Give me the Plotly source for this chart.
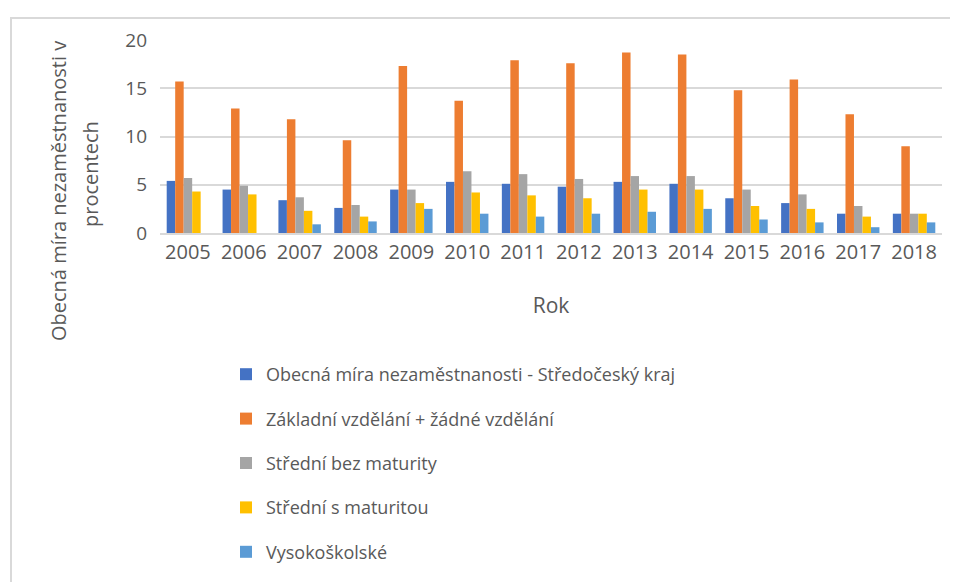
import plotly.graph_objects as go

# Roky a hodnoty (v procentech)
years = ['2005', '2006', '2007', '2008', '2009', '2010', '2011',
         '2012', '2013', '2014', '2015', '2016', '2017', '2018']

obecna = [5.4, 4.5, 3.4, 2.6, 4.5, 5.3, 5.1, 4.8, 5.3, 5.1, 3.6, 3.1, 2.0, 2.0]
zakladni = [15.7, 12.9, 11.8, 9.6, 17.3, 13.7, 17.9, 17.6, 18.7, 18.5, 14.8, 15.9, 12.3, 9.0]
bez_maturity = [5.7, 4.9, 3.7, 2.9, 4.5, 6.4, 6.1, 5.6, 5.9, 5.9, 4.5, 4.0, 2.8, 2.0]
s_maturitou = [4.3, 4.0, 2.3, 1.7, 3.1, 4.2, 3.9, 3.6, 4.5, 4.5, 2.8, 2.5, 1.7, 2.0]
vysokoskolske = [None, None, 0.9, 1.2, 2.5, 2.0, 1.7, 2.0, 2.2, 2.5, 1.4, 1.1, 0.6, 1.1]

series = [
    ('Obecná míra nezaměstnanosti - Středočeský kraj', obecna, '#4472C4'),
    ('Základní vzdělání + žádné vzdělání', zakladni, '#ED7D31'),
    ('Střední bez maturity', bez_maturity, '#A5A5A5'),
    ('Střední s maturitou', s_maturitou, '#FFC000'),
    ('Vysokoškolské', vysokoskolske, '#5B9BD5'),
]

W, H = 958, 582
# okraj stránky (body margin) posouvá graf
OX, OY = 8, 9
L, T = 160 - OX, 41 - OY
R = W - (942 - OX)
B = H - (234 - OY)
pw, ph = W - L - R, H - T - B


def px(x):
    return (x - OX - L) / pw


def py(y):
    return 1 - (y - OY - T) / ph


fig = go.Figure()
for i, (name, vals, color) in enumerate(series):
    fig.add_trace(go.Bar(
        x=years, y=vals, name=name,
        marker=dict(color=color, line=dict(width=0)),
        legendgroup=f'g{i}'
    ))

text_color = '#595959'
font_family = 'Open Sans, DejaVu Sans, sans-serif'

fig.update_layout(
    width=W, height=H,
    margin=dict(l=L, r=R, t=T, b=B, autoexpand=False),
    paper_bgcolor='white', plot_bgcolor='white',
    barmode='group', bargap=0.24, bargroupgap=0,
    font=dict(family=font_family, color=text_color),
    legend=dict(
        x=px(226), xanchor='left',
        y=py(357), yanchor='top',
        font=dict(size=18, color=text_color),
        tracegroupgap=18,
        itemwidth=30,
        bgcolor='rgba(0,0,0,0)'
    ),
    showlegend=True,
)

fig.update_xaxes(
    type='category', automargin=False,
    showgrid=False, showline=True, linecolor='#d9d9d9', linewidth=2,
    ticks='', tickfont=dict(size=20, color=text_color),
    title=dict(text='Rok', font=dict(size=21, color=text_color), standoff=34),
)
fig.update_yaxes(
    range=[0, 20], tickvals=[0, 5, 10, 15, 20], automargin=False,
    showgrid=True, gridcolor='#d9d9d9', gridwidth=2,
    zeroline=False, showline=False, ticks='',
    tickfont=dict(size=19, color=text_color),
    ticklabelstandoff=12,
)

# Popisek osy Y (dva řádky)
for text, x, y in [('Obecná míra nezaměstnanosti v', 58, 192), ('procentech', 90, 175)]:
    fig.add_annotation(
        text=text, textangle=-90, showarrow=False,
        xref='paper', yref='paper', x=px(x), y=py(y),
        xanchor='center', yanchor='middle',
        font=dict(size=20, color=text_color),
    )

# Rámeček grafu
fig.add_shape(
    type='rect', xref='paper', yref='paper',
    x0=px(11), x1=px(W + 20), y0=py(H + 20), y1=py(19),
    line=dict(color='#d9d9d9', width=2), fillcolor='rgba(0,0,0,0)',
    layer='below'
)

fig.write_html("out.html")
